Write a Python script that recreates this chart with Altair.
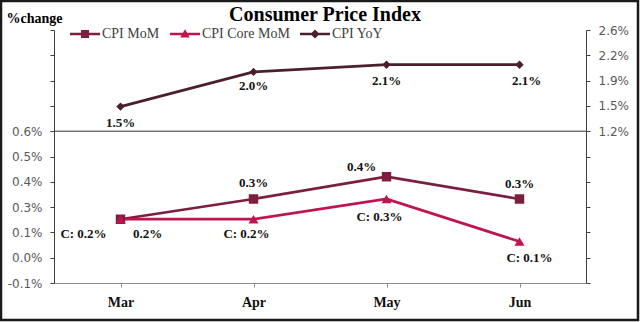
import altair as alt
import pandas as pd

# ---------------- data ----------------
months = ["Mar", "Apr", "May", "Jun"]
cpi_mom = [0.19, 0.29, 0.40, 0.29]
cpi_core_mom = [0.19, 0.19, 0.29, 0.08]
cpi_yoy = [1.54, 2.02, 2.12, 2.12]

series_names = ["CPI MoM", "CPI Core MoM", "CPI YoY"]
label_prefix = {"CPI MoM": "", "CPI Core MoM": "C: ", "CPI YoY": ""}
chart_title = "Consumer Price Index"

left_domain = [-0.125, 1.125]
left_ticks = [round(-0.125 + 0.125 * i, 4) for i in range(11)]
right_domain = [-0.9, 2.6]
right_ticks = [round(-0.9 + 0.35 * i, 4) for i in range(11)]
divider_value = 0.625

# ---------------- styles ----------------
series_colors = ["#7E1E3F", "#BE1450", "#4A1F2E"]
color_of = dict(zip(series_names, series_colors))
point_shapes = {"CPI MoM": "square", "CPI Core MoM": "triangle-up", "CPI YoY": "diamond"}
point_sizes = {"CPI MoM": 90, "CPI Core MoM": 100, "CPI YoY": 70}
legend_paths = [
    "M-1,-0.09L1,-0.09L1,0.09L-1,0.09Z M-0.27,-0.27L0.27,-0.27L0.27,0.27L-0.27,0.27Z",
    "M-1,-0.09L1,-0.09L1,0.09L-1,0.09Z M0,-0.32L0.32,0.24L-0.32,0.24Z",
    "M-1,-0.09L1,-0.09L1,0.09L-1,0.09Z M0,-0.3L0.3,0L0,0.3L-0.3,0Z",
]
label_offsets = {
    ("CPI MoM", "Mar"): (27, 15), ("CPI MoM", "Apr"): (0, -16),
    ("CPI MoM", "May"): (-25, -10), ("CPI MoM", "Jun"): (0, -15),
    ("CPI Core MoM", "Mar"): (-37, 15), ("CPI Core MoM", "Apr"): (-7, 15),
    ("CPI Core MoM", "May"): (-7, 18), ("CPI Core MoM", "Jun"): (10, 16),
    ("CPI YoY", "Mar"): (0, 16), ("CPI YoY", "Apr"): (0, 14),
    ("CPI YoY", "May"): (0, 16), ("CPI YoY", "Jun"): (7, 16),
}
SERIF = "Liberation Serif"
SANS = "DejaVu Sans"

rows = []
for name, vals in zip(series_names, [cpi_mom, cpi_core_mom, cpi_yoy]):
    for m, v in zip(months, vals):
        rows.append({"month": m, "series": name, "value": v,
                     "label": f"{label_prefix[name]}{v:.1f}%"})
df = pd.DataFrame(rows)
df_left = df[df.series != "CPI YoY"]
df_right = df[df.series == "CPI YoY"]

x_enc = alt.X("month:N", sort=months, scale=alt.Scale(type="point", padding=0.5),
              axis=alt.Axis(title=None, domainColor="#8c8c8c", tickColor="#8c8c8c",
                            labelFont=SERIF, labelFontSize=14, labelFontWeight="bold",
                            labelColor="#111111", labelPadding=8, tickSize=4, labelAngle=0))

left_axis = alt.Axis(values=left_ticks,
                     labelExpr="datum.value < 0.63 ? (datum.value < -0.01 ? '-' + format(-datum.value, '.1f') : format(datum.value, '.1f')) + '%' : ''",
                     title="%change", titleAngle=0, titleX=-48, titleY=-8,
                     titleAlign="left", titleBaseline="alphabetic",
                     titleFont=SERIF, titleFontSize=14, titleFontWeight="bold", titleColor="#000000",
                     domainColor="#404040", tickColor="#404040", tickSize=4,
                     labelFont=SANS, labelFontSize=12, labelColor="#595959", labelPadding=8)
right_axis = alt.Axis(orient="right", values=right_ticks,
                      labelExpr="datum.value > 1.19 ? format(floor(datum.value * 10 + 0.0001) / 10, '.1f') + '%' : ''",
                      title=None, domainColor="#404040", tickColor="#404040", tickSize=4,
                      labelFont=SANS, labelFontSize=12, labelColor="#595959", labelPadding=8)

y_left = alt.Y("value:Q", scale=alt.Scale(domain=left_domain, nice=False, zero=False), axis=left_axis)
y_right = alt.Y("value:Q", scale=alt.Scale(domain=right_domain, nice=False, zero=False), axis=right_axis)


def line_layer(data, name, y):
    return alt.Chart(data).mark_line(strokeWidth=2.75, color=color_of[name]).encode(
        x=x_enc, y=y).transform_filter(alt.datum.series == name)


def point_layer(data, name, y):
    return alt.Chart(data).mark_point(
        shape=point_shapes[name], size=point_sizes[name], filled=True, opacity=1,
        color=color_of[name]
    ).encode(x=x_enc, y=y).transform_filter(alt.datum.series == name)


def label_layer(data, name, month, y):
    dx, dy = label_offsets[(name, month)]
    return alt.Chart(data).mark_text(
        font=SERIF, fontSize=13, fontWeight="bold", color="#111111",
        dx=dx, dy=dy, baseline="middle", align="center"
    ).encode(x=x_enc, y=y, text="label:N").transform_filter(
        (alt.datum.series == name) & (alt.datum.month == month))


legend_def = alt.Legend(title=None, orient="none", legendX=16, legendY=-11,
                        direction="horizontal", symbolSize=900, symbolStrokeWidth=0,
                        labelFont=SERIF, labelFontSize=14, labelColor="#404040",
                        labelOffset=2, columnPadding=10, padding=0)

legend_layer = alt.Chart(df).mark_point(filled=True, opacity=1).encode(
    color=alt.Color("series:N", scale=alt.Scale(domain=series_names, range=series_colors),
                    legend=legend_def),
    shape=alt.Shape("series:N", scale=alt.Scale(domain=series_names, range=legend_paths),
                    legend=legend_def),
).transform_filter("false")

divider = alt.Chart(alt.Data(values=[{}])).mark_rule(color="#333333", strokeWidth=1).encode(
    y=alt.Y(datum=divider_value, scale=alt.Scale(domain=left_domain, nice=False, zero=False),
            axis=left_axis))

left_layers = [divider]
for nm in ["CPI MoM", "CPI Core MoM"]:
    left_layers.append(line_layer(df_left, nm, y_left))
for nm in ["CPI MoM", "CPI Core MoM"]:
    left_layers.append(point_layer(df_left, nm, y_left))
for nm in ["CPI MoM", "CPI Core MoM"]:
    for m in months:
        left_layers.append(label_layer(df_left, nm, m, y_left))
left_group = alt.layer(*left_layers)

right_layers = [line_layer(df_right, "CPI YoY", y_right), point_layer(df_right, "CPI YoY", y_right)]
for m in months:
    right_layers.append(label_layer(df_right, "CPI YoY", m, y_right))
right_group = alt.layer(*right_layers)

frame = alt.Chart(alt.Data(values=[{}])).mark_rect(
    fillOpacity=0, stroke="#1a1a1a", strokeWidth=2.5
).encode(x=alt.value(-53), x2=alt.value(584), y=alt.value(-29), y2=alt.value(290))

title_text = alt.Chart(alt.Data(values=[{}])).mark_text(
    text=chart_title, font=SERIF, fontSize=20, fontWeight="bold", color="#000000",
    align="center", baseline="alphabetic"
).encode(x=alt.value(271), y=alt.value(-9))

chart = alt.layer(left_group, right_group, legend_layer, frame, title_text).resolve_scale(
    y="independent").properties(
    width=532, height=253,
    autosize=alt.AutoSizeParams(type="none"),
    padding={"left": 54, "top": 30, "right": 54, "bottom": 39},
    background="white",
).configure_view(strokeOpacity=0).configure_axis(grid=False)

chart.save("out.html", embed_options={"renderer": "svg", "actions": False})
